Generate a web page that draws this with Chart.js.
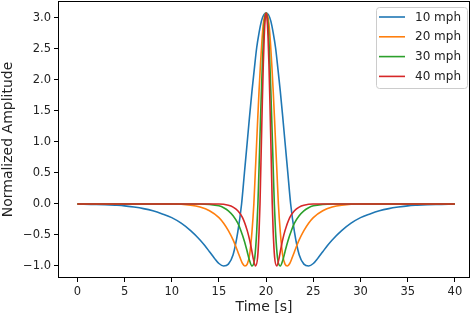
<!DOCTYPE html>
<html>
<head>
<meta charset="utf-8">
<script src="https://cdn.jsdelivr.net/npm/chart.js@4/dist/chart.umd.min.js"></script>
<style>
  html, body { margin: 0; padding: 0; background: #fff; }
  #wrap { width: 474px; height: 318px; }
</style>
</head>
<body>
<div id="wrap"><canvas id="myChart" width="474" height="318"></canvas></div>
<script>
// values
const seriesNames = ['10 mph', '20 mph', '30 mph', '40 mph'];
const seriesColors = ['#1f77b4', '#ff7f0e', '#2ca02c', '#d62728'];
const xTicks = [0, 5, 10, 15, 20, 25, 30, 35, 40];
const yTicks = [-1.0, -0.5, 0.0, 0.5, 1.0, 1.5, 2.0, 2.5, 3.0];

const blueTime = [0, 2, 4, 5, 6, 7, 8, 9, 10, 11, 12, 13, 13.5, 14, 14.5, 15, 15.5, 16, 16.5, 17, 17.4, 17.7, 18, 18.25, 18.5, 18.75, 19, 19.25, 19.5, 19.75, 20,
  20.25, 20.5, 20.75, 21, 21.25, 21.5, 21.75, 22, 22.3, 22.6, 23, 23.5, 24, 24.5, 25, 25.5, 26, 26.5, 27, 28, 29, 30, 31, 32, 33, 34, 35, 36, 38, 40];
const blueAmp = [0, -0.006, -0.02, -0.03, -0.05, -0.075, -0.11, -0.16, -0.22, -0.31, -0.43, -0.58, -0.67, -0.77, -0.87, -0.96, -1.0, -0.97, -0.82, -0.45, 0, 0.5, 1.0, 1.42, 1.82, 2.18, 2.52, 2.76, 2.95, 3.05, 3.08,
  3.05, 2.95, 2.76, 2.52, 2.18, 1.82, 1.42, 1.0, 0.5, 0, -0.45, -0.82, -0.97, -1.0, -0.96, -0.87, -0.77, -0.67, -0.58, -0.43, -0.31, -0.22, -0.16, -0.11, -0.075, -0.05, -0.03, -0.02, -0.006, 0];

const orangeTime = [0, 10, 12, 13, 14, 15, 15.5, 16, 16.5, 17, 17.25, 17.5, 17.75, 18, 18.25, 18.5, 18.7, 18.85, 19, 19.1, 19.25, 19.4, 19.55, 19.7, 19.85, 20,
  20.15, 20.3, 20.45, 20.6, 20.75, 20.9, 21, 21.15, 21.3, 21.5, 21.75, 22, 22.25, 22.5, 22.75, 23, 23.5, 24, 24.5, 25, 26, 27, 28, 30, 40];
const orangeAmp = [0, 0, -0.02, -0.05, -0.11, -0.22, -0.31, -0.43, -0.58, -0.77, -0.87, -0.96, -1.0, -0.97, -0.82, -0.45, 0, 0.5, 1.0, 1.34, 1.82, 2.25, 2.62, 2.90, 3.04, 3.08,
  3.04, 2.90, 2.62, 2.25, 1.82, 1.34, 1.0, 0.5, 0, -0.45, -0.82, -0.97, -1.0, -0.96, -0.87, -0.77, -0.58, -0.43, -0.31, -0.22, -0.11, -0.05, -0.02, 0, 0];

const greenTime = [0, 13, 14, 15, 15.5, 16, 16.5, 17, 17.3, 17.7, 18, 18.2, 18.5, 18.8, 19, 19.13, 19.2, 19.3, 19.4, 19.5, 19.6, 19.7, 19.8, 19.9, 20,
  20.1, 20.2, 20.3, 20.4, 20.5, 20.6, 20.7, 20.8, 20.87, 21, 21.2, 21.5, 21.8, 22, 22.3, 22.7, 23, 23.5, 24, 24.5, 25, 26, 27, 40];
const greenAmp = [0, 0, -0.006, -0.03, -0.06, -0.11, -0.19, -0.31, -0.42, -0.60, -0.77, -0.89, -1.0, -0.86, -0.45, 0, 0.33, 0.84, 1.34, 1.82, 2.25, 2.62, 2.90, 3.04, 3.08,
  3.04, 2.90, 2.62, 2.25, 1.82, 1.34, 0.84, 0.33, 0, -0.45, -0.86, -1.0, -0.89, -0.77, -0.60, -0.42, -0.31, -0.19, -0.11, -0.06, -0.03, -0.006, 0, 0];

const redTime = [0, 15, 16, 16.5, 17, 17.5, 18, 18.25, 18.5, 18.65, 18.875, 19.1, 19.25, 19.35, 19.4, 19.5, 19.6, 19.7, 19.8, 19.9, 20,
  20.1, 20.2, 20.3, 20.4, 20.5, 20.6, 20.65, 20.75, 20.9, 21.125, 21.35, 21.5, 21.75, 22, 22.5, 23, 23.5, 24, 25, 40];
const redAmp = [0, 0, -0.02, -0.05, -0.11, -0.22, -0.43, -0.58, -0.77, -0.89, -1.0, -0.86, -0.45, 0, 0.33, 1.0, 1.66, 2.25, 2.71, 2.99, 3.08,
  2.99, 2.71, 2.25, 1.66, 1.0, 0.33, 0, -0.45, -0.86, -1.0, -0.89, -0.77, -0.58, -0.43, -0.22, -0.11, -0.05, -0.02, 0, 0];

const allTimes = [blueTime, orangeTime, greenTime, redTime];
const allAmps = [blueAmp, orangeAmp, greenAmp, redAmp];

const FONT = 'DejaVu Sans';

function toPoints(t, a){
    return t.map((v, i) => ({x: v, y: a[i]}));
}

// axes box all round, like matplotlib spines
const frame = {
    id: 'frame',
    afterDatasetsDraw(chart){
        const c = chart.ctx, a = chart.chartArea;
        c.save();
        c.strokeStyle = '#000';
        c.lineWidth = 1;
        c.strokeRect(Math.round(a.left) + 0.5, Math.round(a.top) + 0.5,
            Math.round(a.right - a.left) - 1, Math.round(a.bottom - a.top) - 1);
        c.restore();
    }
};

// legend box in upper right corner
const legendBox = {
    id: 'legendBox',
    afterDraw(chart){
        const c = chart.ctx, a = chart.chartArea;
        const w = 91, h = 81;
        const x0 = a.right - 94, y0 = a.top + 6;
        c.save();
        c.fillStyle = 'rgba(255,255,255,0.8)';
        c.strokeStyle = '#cccccc';
        c.lineWidth = 1;
        c.beginPath();
        c.roundRect(x0 + 0.5, y0 + 0.5, w, h, 3);
        c.fill();
        c.stroke();
        c.font = '12px "' + FONT + '"';
        c.textBaseline = 'middle';
        chart.data.datasets.forEach((ds, i) => {
            const yy = y0 + 10 + i * 19.8;
            c.strokeStyle = ds.borderColor;
            c.lineWidth = 1.6;
            c.beginPath();
            c.moveTo(x0 + 3, yy);
            c.lineTo(x0 + 29, yy);
            c.stroke();
            c.fillStyle = '#222';
            c.fillText(ds.label, x0 + 39, yy + 0.5);
        });
        c.restore();
    }
};

const ctx = document.getElementById('myChart').getContext('2d');
const myChart = new Chart(ctx, {
    type: 'line',
    data: {
        datasets: seriesNames.map((name, i) => ({
            label: name,
            data: toPoints(allTimes[i], allAmps[i]),
            borderColor: seriesColors[i],
            borderWidth: 1.6,
            pointRadius: 0,
            fill: false,
            cubicInterpolationMode: 'monotone',
            order: 4 - i,
        })),
    },
    options: {
        responsive: false,
        animation: false,
        devicePixelRatio: 1,
        layout: { padding: { left: 0, top: 1, right: 4, bottom: 0 } },
        plugins: {
            legend: { display: false },
            tooltip: { enabled: false },
        },
        scales: {
            x: {
                type: 'linear',
                min: -2.05,
                max: 41.6,
                afterBuildTicks: (s) => { s.ticks = xTicks.map(v => ({value: v})); },
                afterFit: (s) => { s.height = 40; s.paddingLeft = 0; s.paddingRight = 0; },
                grid: { display: true, drawOnChartArea: false, drawTicks: true, tickLength: 4, color: '#000' },
                border: { display: false },
                ticks: { color: '#222', padding: 3, font: { family: FONT, size: 11.5 }, maxRotation: 0 },
                title: { display: true, text: 'Time [s]', color: '#222', font: { family: FONT, size: 14 }, padding: { top: 0, bottom: 2 } },
            },
            y: {
                type: 'linear',
                min: -1.194,
                max: 3.274,
                afterBuildTicks: (s) => { s.ticks = yTicks.map(v => ({value: v})); },
                afterFit: (s) => { s.width = 58; s.paddingTop = 0; s.paddingBottom = 0; },
                grid: { display: true, drawOnChartArea: false, drawTicks: true, tickLength: 4, color: '#000' },
                border: { display: false },
                ticks: {
                    color: '#222', padding: 3, font: { family: FONT, size: 11.5 },
                    callback: (v) => (v < 0 ? '\u2212' + Math.abs(v).toFixed(1) : v.toFixed(1)),
                },
                title: { display: true, text: 'Normalized Amplitude', color: '#222', font: { family: FONT, size: 14 }, padding: { top: 0, bottom: 0 } },
            },
        },
    },
    plugins: [frame, legendBox],
});
</script>
</body>
</html>
